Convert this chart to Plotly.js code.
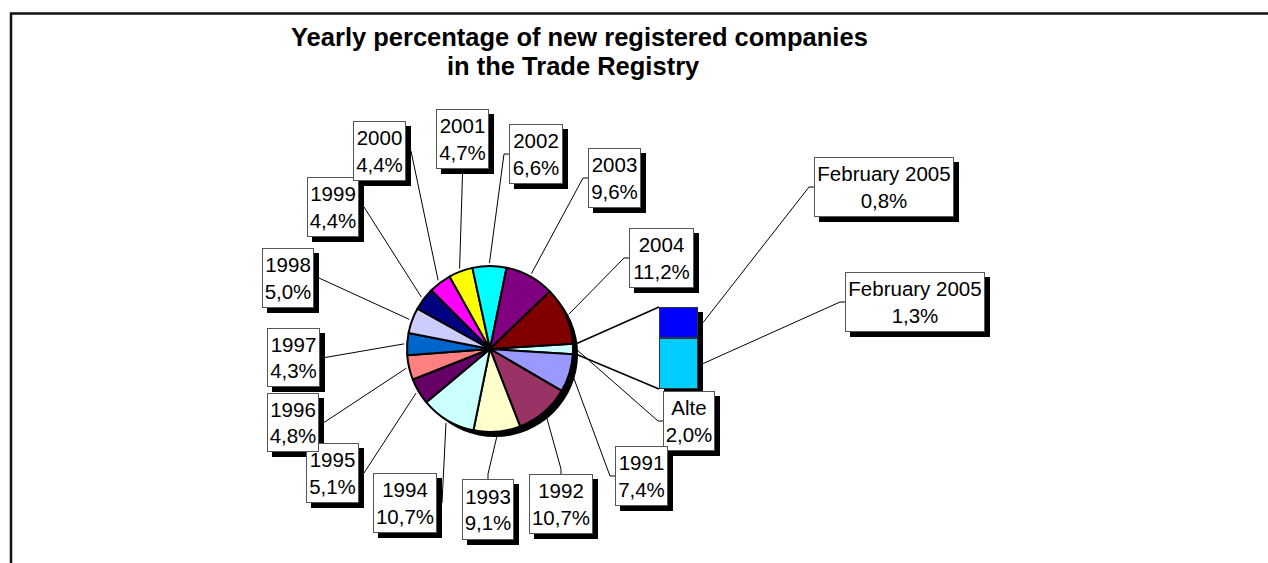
<!DOCTYPE html>
<html><head><meta charset="utf-8">
<script src="https://cdn.plot.ly/plotly-3.0.1.min.js"></script>
<style>html,body{margin:0;padding:0;background:#fff;} #chart{width:1268px;height:563px;}</style>
</head><body><div id="chart"></div>
<script>
// ---- data ----
const categories = ['Alte','1991','1992','1993','1994','1995','1996','1997','1998','1999','2000','2001','2002','2003','2004'];
const shares = [2.0,7.4,10.7,9.1,10.7,5.1,4.8,4.3,5.0,4.4,4.4,4.7,6.6,9.6,11.2];
const sliceColors = ['#CCFFFF','#9999FF','#993366','#FFFFCC','#CCFFFF','#660066','#FF8080','#0066CC','#CCCCFF','#000080','#FF00FF','#FFFF00','#00FFFF','#800080','#800000'];
const barCategories = ['February 2005','February 2005'];   // bottom, top
const barShares = [1.3, 0.8];
const barColors = ['#00CCFF','#0000FF'];
const titleLines = ['Yearly percentage of new registered companies','in the Trade Registry'];

// ---- layout constants (pixels) ----
const W = 1268, H = 563;
const pie = {cx: 490, cy: 349, r: 83, shadow: 5};
const bar = {x0: 659, x1: 698, top: 307, bottom: 389, shadow: 5};
// label boxes: left, top, width, height, side where the leader line attaches
const pieLabelBoxes = [
  [663,391,52,60,'left'], [615,446,53,60,'left'], [529,474,64,60,'top'], [462,479,52,61,'top'],
  [373,473,64,60,'right'], [306,443,53,60,'right'], [267,393,52,59,'right'], [267,328,53,59,'right'],
  [262,248,52,60,'right'], [307,177,52,60,'right'], [353,121,53,60,'right'], [436,109,53,60,'bottom'],
  [509,124,54,60,'left'], [588,148,53,60,'left'], [629,228,65,60,'left']
];
const barLabelBoxes = [[845,272,140,60,'left'], [814,157,140,60,'left']];
const FONT = 'Liberation Sans, Arial, Helvetica, sans-serif';

const px = x => x / W, py = y => 1 - y / H;
const fmt = v => v.toFixed(1).replace('.', ',') + '%';

const total = shares.reduce((a,b)=>a+b,0);
const rotation = 90 - shares[0] / total * 360 / 2;

// slice mid angles
const mids = []; let acc = rotation;
shares.forEach(v => { const span = v/total*360; mids.push(acc + span/2); acc += span; });
const rim = (deg, rr) => { const a = deg*Math.PI/180; return [pie.cx + rr*Math.sin(a), pie.cy - rr*Math.cos(a)]; };

const shapes = [];
const annotations = [];

function addBox(box, text) {
  const [l,t,w,h] = box;
  shapes.push({type:'rect', xref:'paper', yref:'paper', x0:px(l+5), x1:px(l+w+5), y0:py(t+5), y1:py(t+h+5),
    fillcolor:'#000', line:{width:0}, layer:'above'});
  annotations.push({xref:'paper', yref:'paper', x:px(l), y:py(t), xanchor:'left', yanchor:'top',
    width:w-2, height:h-2, borderwidth:1, borderpad:0, bordercolor:'#555', bgcolor:'#fff',
    showarrow:false, align:'center', valign:'middle', text:text, font:{family:FONT, size:20.5, color:'#000'}});
}
function leader(start, box) {
  const [l,t,w,h,side] = box;
  let d;
  if (side === 'right') d = `M${start[0]},${start[1]} L${l+w+5},${t+h/2}`;
  else if (side === 'left') d = `M${start[0]},${start[1]} L${l-5},${t+h/2} L${l},${t+h/2}`;
  else if (side === 'top') d = `M${start[0]},${start[1]} L${l+w/2},${t-5} L${l+w/2},${t}`;
  else d = `M${start[0]},${start[1]} L${l+w/2},${t+h+5}`;
  d = d.replace(/(-?[\d.]+),(-?[\d.]+)/g, (m,a,b) => px(+a) + ',' + py(+b));
  shapes.push({type:'path', xref:'paper', yref:'paper', path:d, line:{color:'#000', width:1}, layer:'above'});
}

categories.forEach((c,i) => {
  leader(rim(mids[i], pie.r + 3), pieLabelBoxes[i]);
  addBox(pieLabelBoxes[i], c + '<br>' + fmt(shares[i]));
});

// bar geometry
const barTotal = barShares.reduce((a,b)=>a+b,0);
const ppu = (bar.bottom - bar.top) / barTotal;
let cum = 0;
barShares.forEach((v,i) => {
  const mid = bar.bottom - (cum + v/2) * ppu; cum += v;
  leader([bar.x1 + bar.shadow, mid], barLabelBoxes[i]);
  addBox(barLabelBoxes[i], barCategories[i] + '<br>' + fmt(v));
});

// connectors pie -> bar
const a0 = rotation, a1 = rotation + shares[0]/total*360;
[[rim(a0, pie.r+4), [bar.x0, bar.top]], [rim(a1, pie.r+4), [bar.x0, bar.bottom]]].forEach(([s,e]) => {
  shapes.push({type:'line', xref:'paper', yref:'paper', x0:px(s[0]), y0:py(s[1]), x1:px(e[0]), y1:py(e[1]),
    line:{color:'#000', width:1.5}, layer:'above'});
});

// frame
shapes.push({type:'path', xref:'paper', yref:'paper',
  path:`M${px(11)},${py(563)} L${px(11)},${py(13.5)} L${px(1268)},${py(13.5)}`,
  line:{color:'#111', width:2.5}, layer:'above'});

// title
annotations.push({xref:'paper', yref:'paper', x:px(579), y:py(37), xanchor:'center', yanchor:'middle', showarrow:false,
  text:'<b>'+titleLines[0]+'</b>', font:{family:FONT, size:25.5, color:'#000'}});
annotations.push({xref:'paper', yref:'paper', x:px(573), y:py(66), xanchor:'center', yanchor:'middle', showarrow:false,
  text:'<b>'+titleLines[1]+'</b>', font:{family:FONT, size:25.5, color:'#000'}});

const dom = (cx, cy, r) => ({x:[px(cx-r), px(cx+r)], y:[py(cy+r), py(cy-r)]});

const traces = [
  {type:'pie', values:[1], marker:{colors:['#000'], line:{width:0}}, textinfo:'none', hoverinfo:'skip',
   sort:false, showlegend:false, domain:dom(pie.cx+pie.shadow, pie.cy+pie.shadow, pie.r)},
  {type:'pie', labels:categories, values:shares, marker:{colors:sliceColors, line:{color:'#000', width:2}},
   textinfo:'none', sort:false, direction:'clockwise', rotation:rotation, showlegend:false,
   domain:dom(pie.cx, pie.cy, pie.r)},
  {type:'bar', x:[0], y:[barTotal], width:1, marker:{color:'#000', line:{width:0}}, xaxis:'x', yaxis:'y',
   hoverinfo:'skip', showlegend:false},
];
barShares.forEach((v,i) => traces.push({type:'bar', x:[0], y:[v], width:1, name:barCategories[i],
  marker:{color:barColors[i], line:{color:'#333', width:1.5}}, xaxis:'x2', yaxis:'y2', showlegend:false}));

const hiddenAx = (domain, range) => ({domain, range, visible:false, fixedrange:true, showgrid:false, zeroline:false});

const layout = {
  width: W, height: H, margin:{l:0,r:0,t:0,b:0}, paper_bgcolor:'#fff', plot_bgcolor:'rgba(0,0,0,0)',
  showlegend:false, barmode:'stack',
  xaxis: hiddenAx([px(bar.x0+bar.shadow), px(bar.x1+bar.shadow)], [-0.5,0.5]),
  yaxis: hiddenAx([py(bar.bottom+bar.shadow), py(bar.top+bar.shadow)], [0, barTotal]),
  xaxis2: hiddenAx([px(bar.x0), px(bar.x1)], [-0.5,0.5]),
  yaxis2: hiddenAx([py(bar.bottom), py(bar.top)], [0, barTotal]),
  shapes, annotations
};
Plotly.newPlot('chart', traces, layout, {displayModeBar:false, staticPlot:true});
</script></body></html>
